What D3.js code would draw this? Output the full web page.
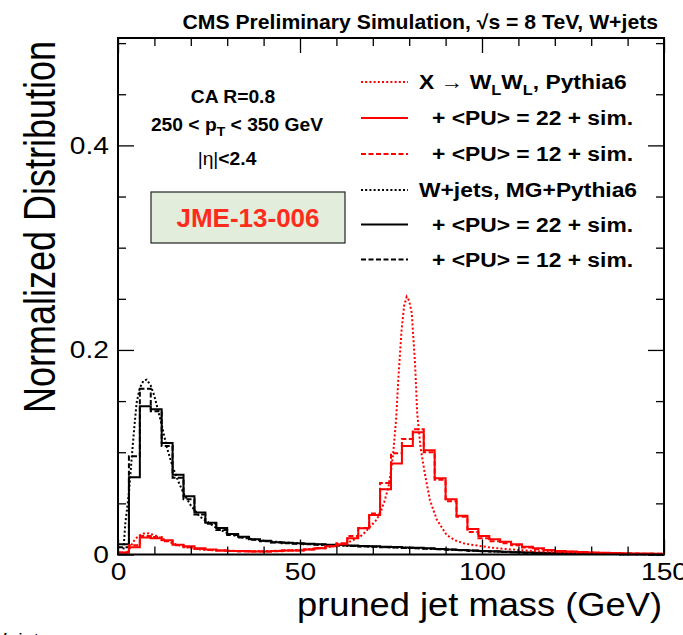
<!DOCTYPE html>
<html><head><meta charset="utf-8">
<script src="https://cdn.jsdelivr.net/npm/d3@7"></script>
<style>
body{margin:0;background:#fff;}
svg{display:block;font-family:"Liberation Sans",Arial,Helvetica,sans-serif;}
</style></head>
<body><svg id="c" width="683" height="635"></svg>
<script>
// ---- data ----
const binLow = [0,3,6,9,12,15,18,21,24,27,30,33,36,39,42,45,48,51,54,57,60,63,66,69,72,75,78,81,84,87,90,93,96,99,102,105,108,111,114,117,120,123,126,129,132,135,138,141,144,147];
const binWidth = 3;
// X -> WLWL, <PU>=22 + sim (red solid)
const sigPU22 = [0.002,0.007,0.0165,0.016,0.014,0.0095,0.008,0.006,0.005,0.004,0.0035,0.0035,0.003,0.003,0.0035,0.004,0.004,0.005,0.006,0.008,0.010,0.0158,0.0256,0.0386,0.0638,0.089,0.106,0.1195,0.102,0.0745,0.054,0.038,0.025,0.018,0.015,0.0125,0.010,0.0076,0.006,0.0045,0.0035,0.003,0.0025,0.002,0.0018,0.0015,0.0012,0.001,0.001,0.0008];
// X -> WLWL, <PU>=12 + sim (red dashed)
const sigPU12 = [0.002,0.009,0.018,0.017,0.013,0.009,0.007,0.0055,0.0045,0.004,0.0035,0.003,0.003,0.003,0.0033,0.0038,0.004,0.005,0.006,0.008,0.011,0.018,0.026,0.040,0.070,0.099,0.113,0.1225,0.100,0.073,0.052,0.037,0.022,0.016,0.013,0.011,0.009,0.0068,0.0052,0.004,0.003,0.0026,0.0022,0.0018,0.0015,0.0013,0.001,0.0009,0.0008,0.0007];
// W+jets, <PU>=22 + sim (black solid)
const bkgPU22 = [0.010,0.0755,0.145,0.142,0.109,0.078,0.057,0.041,0.031,0.026,0.020,0.0174,0.015,0.0135,0.012,0.0115,0.011,0.0105,0.0100,0.0096,0.0092,0.0088,0.0084,0.0080,0.0077,0.0073,0.0069,0.0065,0.0060,0.0055,0.0050,0.0045,0.0040,0.0035,0.0031,0.0027,0.0023,0.0020,0.0017,0.0014,0.0012,0.0010,0.0008,0.0007,0.0005,0.0004,0.0003,0.0003,0.0002,0.0002];
// W+jets, <PU>=12 + sim (black dashed)
const bkgPU12 = [0.007,0.096,0.162,0.140,0.106,0.075,0.054,0.039,0.030,0.024,0.019,0.0165,0.0145,0.013,0.0118,0.011,0.0105,0.0100,0.0095,0.0091,0.0087,0.0083,0.0079,0.0075,0.0072,0.0068,0.0064,0.0060,0.0056,0.0051,0.0046,0.0042,0.0037,0.0033,0.0029,0.0025,0.0021,0.0018,0.0015,0.0013,0.0011,0.0009,0.0007,0.0006,0.0005,0.0004,0.0003,0.0002,0.0002,0.0001];
// generator-level curves (dotted)
const sigGenMass = [1.5,2.8,4.2,5.5,7,8.5,10,11.5,13.4,15,18,20,22.5,25,30,35,40,45,50,55,58.2,60.5,62.8,64.5,66.5,68,69.2,70.8,72,73.2,74.3,75,75.6,76.4,77,77.9,78.6,79.3,80,80.7,81.6,82.2,83.1,84.3,85.7,87.6,90.3,92.5,94.9,97,99,102,105,110,115,120,125,130,135,140,145,150];
const sigGenVal  = [0.0,0.003,0.0125,0.018,0.0205,0.0207,0.019,0.0165,0.0135,0.011,0.0077,0.006,0.005,0.0043,0.0037,0.0034,0.0034,0.0037,0.0045,0.006,0.0075,0.009,0.011,0.014,0.0174,0.022,0.027,0.033,0.040,0.052,0.066,0.082,0.099,0.132,0.171,0.219,0.243,0.252,0.248,0.236,0.187,0.138,0.105,0.079,0.053,0.034,0.019,0.014,0.011,0.0095,0.0086,0.007,0.0058,0.0044,0.0032,0.0023,0.0016,0.0011,0.0008,0.0005,0.0003,0.0002];
const bkgGenMass = [1.5,2,3,3.8,4.5,5.1,6,7,7.9,9,10,11,12,13.4,15,16.5,18,20,22.5,25,27,30,31.6,35,40,45,50,55,60,65,70,75,80,85,90,95,100,105,110,115,120,125,130,135,140,145,150];
const bkgGenVal  = [0.005,0.03,0.06,0.096,0.125,0.148,0.163,0.170,0.171,0.165,0.155,0.141,0.127,0.105,0.086,0.072,0.060,0.048,0.037,0.031,0.026,0.021,0.019,0.016,0.0135,0.012,0.0108,0.0098,0.009,0.0083,0.0077,0.007,0.0064,0.0057,0.005,0.0042,0.0034,0.0027,0.002,0.0015,0.0011,0.0008,0.0006,0.0004,0.0003,0.0002,0.0001];
const xMajorTicks = [0,50,100,150];
const xMinorTicks = [10,20,30,40,60,70,80,90,110,120,130,140];
const yMajorTicks = [0,0.2,0.4];
const yMinorTicks = [0.05,0.1,0.15,0.25,0.3,0.35,0.45,0.5];
const yTickLabels = ["0","0.2","0.4"];
const legendLabels = ["X \u2192 WLWL, Pythia6","+ <PU> = 22 + sim.","+ <PU> = 12 + sim.","W+jets, MG+Pythia6","+ <PU> = 22 + sim.","+ <PU> = 12 + sim."];

// ---- drawing ----
const svg = d3.select("#c");
const x = d3.scaleLinear().domain([0,150]).range([118,664]);
const y = d3.scaleLinear().domain([0,0.505]).range([554.5,38]);

const RED = "#ff0000";
const styles = { dotted: "2,2.2", dashed: "5,2.5" };
const SX = 1.15; // horizontal glyph stretch seen in the reference

function histPath(vals){
  const pts = binLow.map((b,i)=>[b, vals[i]]);
  pts.push([binLow[binLow.length-1]+binWidth, vals[vals.length-1]]);
  return d3.line().x(d=>x(d[0])).y(d=>y(d[1])).curve(d3.curveStepAfter)(pts);
}
function curvePath(xs, vs){
  return d3.line().x((d,i)=>x(xs[i])).y(d=>y(d))(vs);
}
// text placed at (px,py) with horizontal stretch sx
function stext(parent, px, py, sx){
  return parent.append("text").attr("transform",`translate(${px},${py}) scale(${sx},1)`);
}

const plot = svg.append("g");
plot.append("path").attr("d", curvePath(bkgGenMass,bkgGenVal)).attr("fill","none").attr("stroke","#000").attr("stroke-width",2).attr("stroke-dasharray",styles.dotted);
plot.append("path").attr("d", histPath(bkgPU12)).attr("fill","none").attr("stroke","#000").attr("stroke-width",2).attr("stroke-dasharray",styles.dashed);
plot.append("path").attr("d", histPath(bkgPU22)).attr("fill","none").attr("stroke","#000").attr("stroke-width",2);
plot.append("path").attr("d", curvePath(sigGenMass,sigGenVal)).attr("fill","none").attr("stroke",RED).attr("stroke-width",2).attr("stroke-dasharray",styles.dotted);
plot.append("path").attr("d", histPath(sigPU12)).attr("fill","none").attr("stroke",RED).attr("stroke-width",2).attr("stroke-dasharray",styles.dashed);
plot.append("path").attr("d", histPath(sigPU22)).attr("fill","none").attr("stroke",RED).attr("stroke-width",2);

// axes
function styleAxis(g){
  g.select(".domain").remove();
  g.selectAll("line").attr("stroke","#000").attr("stroke-width",1.3);
}
const xb = svg.append("g").attr("transform",`translate(0,${y(0)})`)
  .call(d3.axisBottom(x).tickValues(xMajorTicks).tickSize(-15).tickPadding(8).tickFormat(d3.format("d")));
styleAxis(xb);
xb.selectAll("text").attr("font-size",24.5).attr("fill","#000").attr("font-family","Liberation Sans, Arial, sans-serif")
  .attr("transform",`scale(${SX},1)`);
const xbm = svg.append("g").attr("transform",`translate(0,${y(0)})`)
  .call(d3.axisBottom(x).tickValues(xMinorTicks).tickSize(-8).tickFormat(""));
styleAxis(xbm);
const xt = svg.append("g").attr("transform",`translate(0,${y(0.505)})`)
  .call(d3.axisTop(x).tickValues(xMajorTicks).tickSize(-15).tickFormat(""));
styleAxis(xt);
const xtm = svg.append("g").attr("transform",`translate(0,${y(0.505)})`)
  .call(d3.axisTop(x).tickValues(xMinorTicks).tickSize(-8).tickFormat(""));
styleAxis(xtm);
const yl = svg.append("g").attr("transform",`translate(${x(0)},0)`)
  .call(d3.axisLeft(y).tickValues(yMajorTicks).tickSize(-16).tickPadding(9).tickFormat((d,i)=>yTickLabels[i]));
styleAxis(yl);
yl.selectAll("text").attr("font-size",24.5).attr("fill","#000").attr("font-family","Liberation Sans, Arial, sans-serif")
  .attr("x",-9/SX).attr("transform",`scale(${SX},1)`);
const ylm = svg.append("g").attr("transform",`translate(${x(0)},0)`)
  .call(d3.axisLeft(y).tickValues(yMinorTicks).tickSize(-8).tickFormat(""));
styleAxis(ylm);
const yr = svg.append("g").attr("transform",`translate(${x(150)},0)`)
  .call(d3.axisRight(y).tickValues(yMajorTicks).tickSize(-16).tickFormat(""));
styleAxis(yr);
const yrm = svg.append("g").attr("transform",`translate(${x(150)},0)`)
  .call(d3.axisRight(y).tickValues(yMinorTicks).tickSize(-8).tickFormat(""));
styleAxis(yrm);

// frame
svg.append("rect").attr("x",x(0)).attr("y",y(0.505)).attr("width",x(150)-x(0)).attr("height",y(0)-y(0.505))
  .attr("fill","none").attr("stroke","#000").attr("stroke-width",2);

// axis titles
stext(svg, x(150)-2, 616, 1.1).attr("text-anchor","end").attr("font-size",33).attr("fill","#000").text("pruned jet mass (GeV)");
svg.append("text").attr("transform",`translate(55,${y(0.505)+3}) scale(1.25,1) rotate(-90)`).attr("text-anchor","end")
  .attr("font-size",36).attr("fill","#000").text("Normalized Distribution");

// title
stext(svg, 658, 29, 1.06).attr("text-anchor","end").attr("font-size",20).attr("font-weight","bold")
  .text("CMS Preliminary Simulation, \u221As = 8 TeV, W+jets");

// info text
const info = svg.append("g").attr("font-weight","bold").attr("font-size",18).attr("text-anchor","middle");
stext(info, 233, 103, 1.07).text("CA R=0.8");
const pt = stext(info, 237, 131, 1.07);
pt.append("tspan").text("250 < p");
pt.append("tspan").attr("font-size",13).attr("dy",5).text("T");
pt.append("tspan").attr("dy",-5).text(" < 350 GeV");
const eta = stext(info, 227, 165, 1.07);
eta.append("tspan").attr("font-weight","normal").text("|\u03b7|");
eta.append("tspan").text("<2.4");

// JME box
svg.append("rect").attr("x",151).attr("y",192).attr("width",194).attr("height",51)
  .attr("fill","#e2eedb").attr("stroke","#222").attr("stroke-width",1.2);
svg.append("text").attr("x",248).attr("y",227).attr("text-anchor","middle").attr("font-size",26).attr("font-weight","bold")
  .attr("fill","#ff2b1c").text("JME-13-006");

// legend
const legRows = [
  {c:RED, dash:styles.dotted, tx:419},
  {c:RED, dash:null, tx:432},
  {c:RED, dash:styles.dashed, tx:432},
  {c:"#000", dash:styles.dotted, tx:419},
  {c:"#000", dash:null, tx:432},
  {c:"#000", dash:styles.dashed, tx:432}
];
const legY = [82,118,154,190,224.5,259.5];
const leg = svg.append("g");
legRows.forEach((r,i)=>{
  const yy = legY[i];
  leg.append("line").attr("x1",361).attr("x2",408).attr("y1",yy).attr("y2",yy)
    .attr("stroke",r.c).attr("stroke-width",2).attr("stroke-dasharray",r.dash);
  const t = stext(leg, r.tx, yy+7, 1.17).attr("font-size",19.5).attr("font-weight","bold");
  if(i===0){
    t.append("tspan").text("X ");
    t.append("tspan").attr("font-weight","normal").text("\u2192");
    t.append("tspan").text(" W");
    t.append("tspan").attr("font-size",14).attr("dy",6).text("L");
    t.append("tspan").attr("dy",-6).text("W");
    t.append("tspan").attr("font-size",14).attr("dy",6).text("L");
    t.append("tspan").attr("dy",-6).text(", Pythia6");
  } else {
    t.text(legendLabels[i]);
  }
});

// clipped stray label at bottom left
stext(svg, -12, 646, 1.1).attr("font-size",18).attr("fill","#000").text("W+jets");
</script></body></html>
